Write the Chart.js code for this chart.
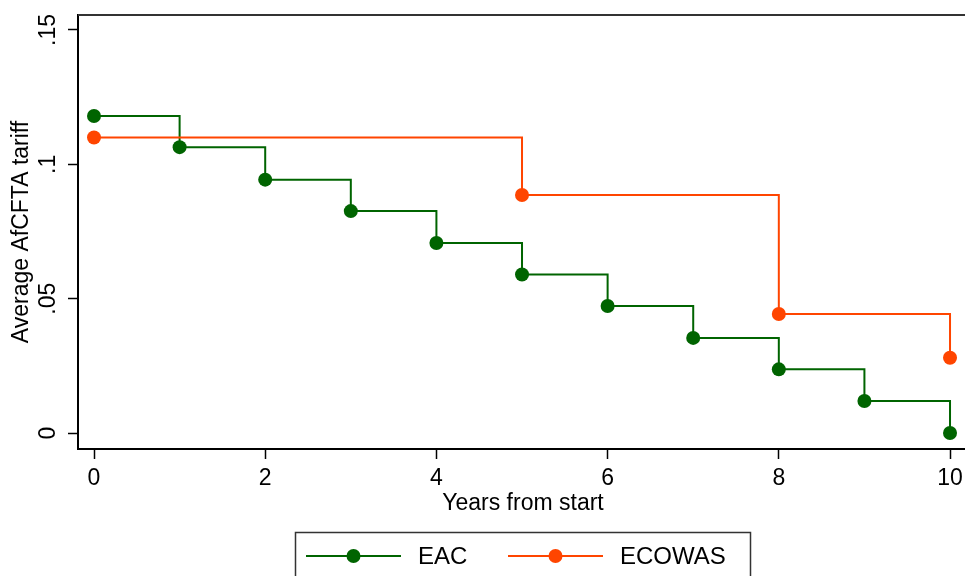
<!DOCTYPE html>
<html>
<head>
<meta charset="utf-8">
<script src="https://cdn.jsdelivr.net/npm/chart.js@4/dist/chart.umd.min.js"></script>
<style>
    html, body { margin: 0; padding: 0; background: #fff; }
    canvas { display: block; }
</style>
</head>
<body>
<canvas id="tariffChart" width="965" height="576"></canvas>
<script>
// Values
var eacYears = [0, 1, 2, 3, 4, 5, 6, 7, 8, 9, 10];
var eacValues = [0.118, 0.1064, 0.0943, 0.0826, 0.0707, 0.059, 0.0473, 0.0354, 0.0237, 0.0119, 0];

var ecowasYears = [0, 5, 8, 10];
var ecowasValues = [0.110, 0.0886, 0.0443, 0.0280];

var xTicks = [0, 2, 4, 6, 8, 10];
var yTicks = [0, 0.05, 0.1, 0.15];
var yTickLabels = ['0', '.05', '.1', '.15'];

var seriesNames = ['EAC', 'ECOWAS'];
var colors = { eac: '#006400', ecowas: '#ff4500' };

var FONT = '"Liberation Sans", Arial, Helvetica, sans-serif';

var toPoints = function (xs, ys) {
    return xs.map(function (x, i) { return { x: x, y: ys[i] }; });
};

// Draws tick labels (y ones rotated), axis titles, top frame line and the legend box
var stataDecor = {
    id: 'stataDecor',
    afterDraw: function (chart) {
        var ctx = chart.ctx;
        var area = chart.chartArea;
        var xScale = chart.scales.x;
        var yScale = chart.scales.y;

        ctx.save();

        // top frame line of the plot region
        ctx.strokeStyle = '#333';
        ctx.lineWidth = 2;
        ctx.beginPath();
        ctx.moveTo(area.left, area.top);
        ctx.lineTo(area.right, area.top);
        ctx.stroke();

        ctx.fillStyle = '#000';
        ctx.font = '23px ' + FONT;
        ctx.textAlign = 'center';
        ctx.textBaseline = 'middle';

        // x tick labels
        xTicks.forEach(function (v) {
            ctx.fillText(String(v), xScale.getPixelForValue(v), 479);
        });

        // y tick labels, reading bottom to top
        yTicks.forEach(function (v, i) {
            var py = yScale.getPixelForValue(v);
            ctx.save();
            ctx.translate(49, py);
            ctx.rotate(-Math.PI / 2);
            ctx.fillText(yTickLabels[i], 0, 0);
            ctx.restore();
        });

        // y axis title
        ctx.save();
        ctx.translate(22, (area.top + area.bottom) / 2);
        ctx.rotate(-Math.PI / 2);
        ctx.fillText('Average AfCFTA tariff', 0, 0);
        ctx.restore();

        // x axis title
        ctx.fillText('Years from start', 523, 504);

        // legend
        ctx.strokeStyle = '#333';
        ctx.lineWidth = 1.5;
        ctx.strokeRect(295.5, 532.5, 455, 60);

        var items = [
            { x: 306, color: colors.eac, label: seriesNames[0] },
            { x: 508, color: colors.ecowas, label: seriesNames[1] }
        ];
        items.forEach(function (it) {
            var ly = 556;
            ctx.strokeStyle = it.color;
            ctx.lineWidth = 2;
            ctx.beginPath();
            ctx.moveTo(it.x, ly);
            ctx.lineTo(it.x + 95, ly);
            ctx.stroke();
            ctx.fillStyle = it.color;
            ctx.beginPath();
            ctx.arc(it.x + 47.5, ly, 7, 0, Math.PI * 2);
            ctx.fill();
            ctx.fillStyle = '#000';
            ctx.font = '24px ' + FONT;
            ctx.textAlign = 'left';
            ctx.fillText(it.label, it.x + 112, ly + 1);
        });

        ctx.restore();
    }
};

var config = {
    type: 'line',
    data: {
        datasets: [
            {
                label: seriesNames[0],
                data: toPoints(eacYears, eacValues),
                borderColor: colors.eac,
                backgroundColor: colors.eac,
                borderWidth: 2,
                pointRadius: 7,
                pointHoverRadius: 7,
                pointBorderWidth: 0,
                stepped: true,
                order: 2
            },
            {
                label: seriesNames[1],
                data: toPoints(ecowasYears, ecowasValues),
                borderColor: colors.ecowas,
                backgroundColor: colors.ecowas,
                borderWidth: 2,
                pointRadius: 7,
                pointHoverRadius: 7,
                pointBorderWidth: 0,
                stepped: true,
                order: 1
            }
        ]
    },
    options: {
        responsive: false,
        animation: false,
        layout: {
            // no extra room for point overflow: the plot region runs to the right edge
            autoPadding: false,
            padding: { top: 15, right: 0, bottom: 0, left: 0 }
        },
        plugins: {
            legend: { display: false },
            title: { display: false },
            tooltip: { enabled: false }
        },
        scales: {
            x: {
                type: 'linear',
                min: -0.187,
                max: 10.175,
                afterBuildTicks: function (scale) {
                    scale.ticks = xTicks.map(function (v) { return { value: v }; });
                },
                afterFit: function (scale) {
                    scale.height = 127;
                },
                border: { color: '#000', width: 2 },
                grid: {
                    drawOnChartArea: false,
                    drawTicks: true,
                    tickLength: 10,
                    tickColor: '#000',
                    tickWidth: 1.5
                },
                ticks: { display: false }
            },
            y: {
                type: 'linear',
                min: -0.00595,
                max: 0.15558,
                afterBuildTicks: function (scale) {
                    scale.ticks = yTicks.map(function (v) { return { value: v }; });
                },
                afterFit: function (scale) {
                    scale.width = 78;
                },
                border: { color: '#000', width: 2 },
                grid: {
                    drawOnChartArea: false,
                    drawTicks: true,
                    tickLength: 10,
                    tickColor: '#000',
                    tickWidth: 1.5
                },
                ticks: { display: false }
            }
        }
    },
    plugins: [stataDecor]
};

var ctx = document.getElementById('tariffChart').getContext('2d');
var tariffChart = new Chart(ctx, config);
</script>
</body>
</html>
